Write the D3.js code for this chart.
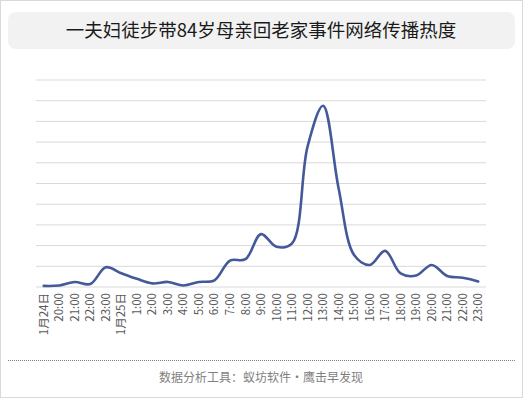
<!DOCTYPE html>
<html lang="zh">
<head>
<meta charset="UTF-8">
<title>一夫妇徒步带84岁母亲回老家事件网络传播热度</title>
<style>
  body { margin: 0; background: #fff; }
  svg { display: block; font-family: "Noto Sans CJK SC", "Noto Sans", sans-serif; }
</style>
</head>
<body>
<svg id="chart" width="523" height="398"></svg>
<script src="https://cdn.jsdelivr.net/npm/d3@7"></script>
<script>
// hourly categories, 1月24日 19:00 to 1月25日 23:00
var hours = ["1月24日", "20:00", "21:00", "22:00", "23:00", "1月25日",
    "1:00", "2:00", "3:00", "4:00", "5:00", "6:00", "7:00", "8:00", "9:00",
    "10:00", "11:00", "12:00", "13:00", "14:00", "15:00", "16:00", "17:00",
    "18:00", "19:00", "20:00", "21:00", "22:00", "23:00"];

// heat index (grid step = 1)
var heat = [0.03, 0.05, 0.22, 0.12, 0.93, 0.64, 0.37, 0.15, 0.22, 0.05,
    0.22, 0.3, 1.25, 1.32, 2.53, 1.92, 2.08, 6.76, 8.73, 4.75, 1.52,
    1.04, 1.72, 0.63, 0.53, 1.04, 0.51, 0.42, 0.24];

var yTicks = d3.range(0, 11);

var svg = d3.select("#chart"),
    width = +svg.attr("width"),
    height = +svg.attr("height");

// outer frame
svg.append("rect")
    .attr("x", 0.5).attr("y", 0.5)
    .attr("width", width - 1).attr("height", height - 1)
    .attr("fill", "#fff")
    .attr("stroke", "#d9d9d9");

// title box
svg.append("rect")
    .attr("x", 8).attr("y", 12)
    .attr("width", 507).attr("height", 37)
    .attr("rx", 8)
    .attr("fill", "#f2f2f2");

svg.append("text")
    .attr("x", 261).attr("y", 37)
    .attr("text-anchor", "middle")
    .attr("font-size", 18.5)
    .attr("fill", "#1a1a1a")
    .text("一夫妇徒步带84岁母亲回老家事件网络传播热度");

var x = d3.scaleBand()
    .domain(d3.range(hours.length))
    .range([36, 486]);

var y = d3.scaleLinear()
    .domain([0, 10])
    .range([286.5, 79.5]);

// gridlines
svg.append("g")
    .attr("transform", "translate(36,0)")
    .call(d3.axisLeft(y).tickValues(yTicks).tickSize(-450).tickFormat(""))
    .call(g => g.select(".domain").remove())
    .call(g => g.selectAll(".tick line")
        .attr("stroke", "#d9d9d9")
        .attr("stroke-width", 1));

// x labels
svg.append("g")
    .selectAll("text")
    .data(hours)
    .join("text")
    .attr("transform", (d, i) => "translate(" + (x(i) + x.bandwidth() / 2) + ",293) rotate(-90)")
    .attr("text-anchor", "end")
    .attr("dy", "0.35em")
    .attr("font-size", 11.5)
    .attr("fill", "#595959")
    .text(d => d);

// heat line
var line = d3.line()
    .x((d, i) => x(i) + x.bandwidth() / 2)
    .y(d => y(d))
    .curve(d3.curveCatmullRom.alpha(0.5));

svg.append("path")
    .datum(heat)
    .attr("d", line)
    .attr("fill", "none")
    .attr("stroke", "#44599a")
    .attr("stroke-width", 2.6)
    .attr("stroke-linejoin", "round")
    .attr("stroke-linecap", "round");

// footer
svg.append("line")
    .attr("x1", 8).attr("x2", 515)
    .attr("y1", 360.5).attr("y2", 360.5)
    .attr("stroke", "#7f7f7f")
    .attr("stroke-dasharray", "1,1");

svg.append("text")
    .attr("x", 261).attr("y", 382)
    .attr("text-anchor", "middle")
    .attr("font-size", 12)
    .attr("fill", "#7f7f7f")
    .text("数据分析工具：蚁坊软件·鹰击早发现");
</script>
</body>
</html>
